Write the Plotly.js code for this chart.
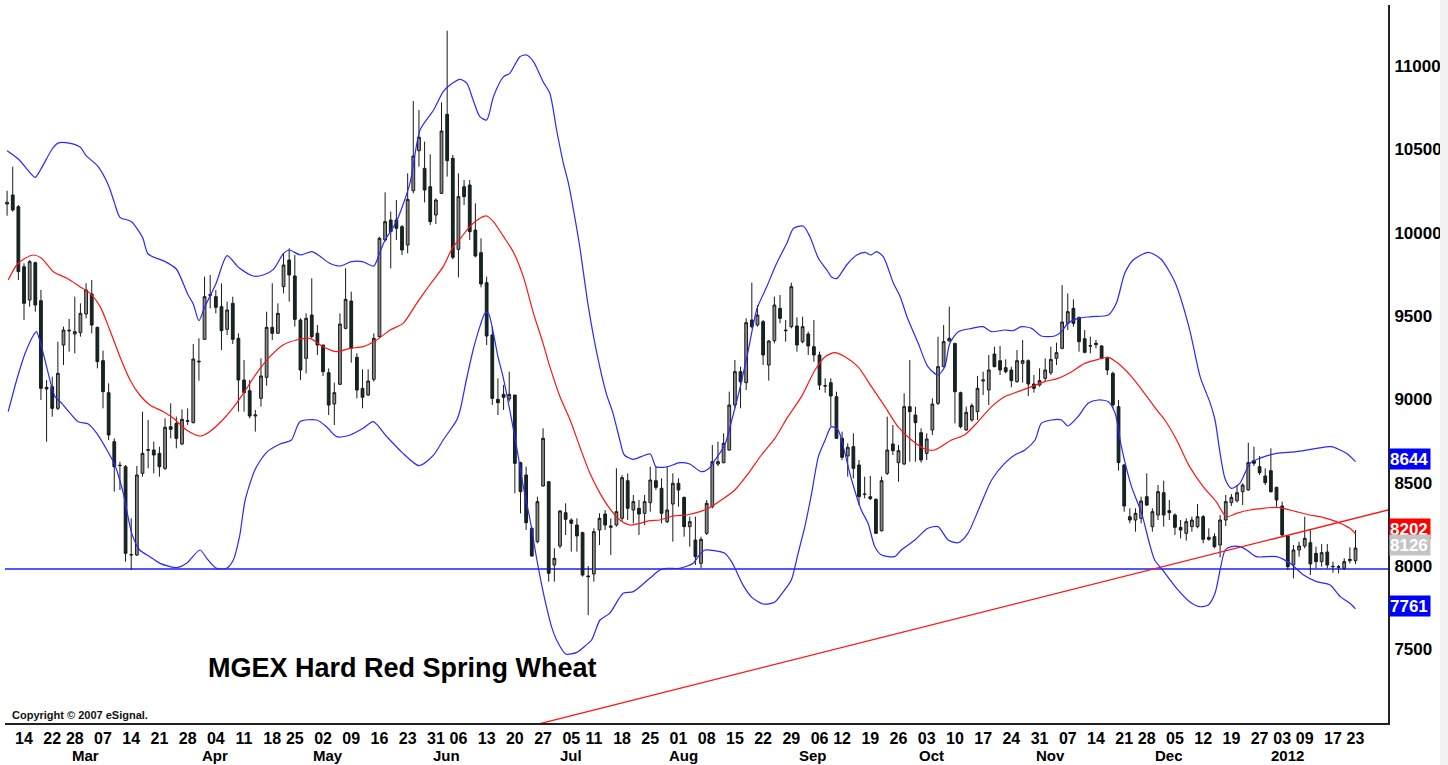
<!DOCTYPE html>
<html>
<head>
<meta charset="utf-8">
<script src="https://cdn.plot.ly/plotly-3.0.1.min.js"></script>
<style>
  html, body { margin: 0; padding: 0; background: #fff; }
  #chart { width: 1448px; height: 765px; }
</style>
</head>
<body>
<div id="chart"></div>
<script>
// ---------------- DATA ----------------
const holidays = ['2011-02-21','2011-04-22','2011-05-30','2011-07-04','2011-09-05','2011-11-24','2011-12-26','2012-01-02','2012-01-16'];
const firstDate = '2011-02-09';
const lastDate = '2012-01-23';

const open = [
10190,10244,10174,9814,9614,9838,9610,9090,9094,8964,
9344,9428,9410,9418,9530,9650,9450,9250,9058,8764,
8620,8614,8084,8084,8574,8712,8714,8694,8604,8854,
8874,8750,8886,8878,9242,9378,9642,9634,9574,9438,
9594,9384,9134,9070,8918,9024,9150,9450,9414,9694,
9854,9758,9494,9264,9524,9414,9344,9178,8990,9108,
9444,9608,9270,9084,9044,9138,9394,9974,10094,10094,
10054,9944,10270,10510,10404,10294,10124,10254,10728,10464,
9918,10294,10304,10034,9898,9718,9404,9018,9048,9020,
9044,8638,8564,8244,8164,8498,8524,8024,8138,8338,
8294,8264,8218,7958,7970,8234,8330,8250,8264,8304,
8530,8354,8364,8334,8398,8530,8484,8284,8390,8514,
8430,8254,8174,8034,8214,8374,8630,8638,8714,8984,
9184,9118,9494,9464,9484,9224,9370,9564,9434,9454,
9458,9364,9410,9334,9284,9100,9118,9034,8784,8678,
8734,8624,8450,8434,8418,8230,8574,8750,8638,8630,
8974,8924,8818,8694,8834,8994,9214,9368,9354,9058,
8834,8894,8944,9128,9074,9290,9250,9208,9194,9124,
9234,9250,9110,9104,9144,9178,9264,9324,9474,9564,
9510,9382,9340,9346,9338,9264,9174,8974,8624,8314,
8294,8304,8434,8254,8324,8458,8350,8324,8250,8214,
8254,8254,8314,8190,8194,8144,8294,8398,8410,8464,
8474,8650,8614,8558,8590,8490,8378,8198,8024,8114,
8138,8158,8094,8044,8102,8016,8010,8004,8050,8050
];
const high = [
10270,10414,10184,9834,9854,9844,9674,9134,9154,9364,
9454,9500,9634,9594,9714,9734,9454,9310,9114,8784,
8644,8624,8304,8618,8944,8894,8764,8734,8904,8994,
8914,8958,8964,9350,9384,9754,9764,9674,9714,9604,
9634,9414,9254,9134,8954,9264,9544,9714,9594,9894,
9924,9884,9504,9534,9744,9464,9344,9204,9118,9534,
9804,9664,9294,9198,9198,9414,9994,10260,10144,10214,
10064,10374,10808,10754,10564,10488,10224,10800,11230,10484,
10374,10334,10334,10194,9984,9754,9454,9144,9104,9184,
9044,8644,8614,8254,8434,8844,8524,8124,8354,8394,
8304,8304,8224,8018,8244,8334,8354,8304,8604,8564,
8574,8444,8414,8444,8614,8614,8544,8614,8574,8544,
8434,8314,8314,8194,8414,8744,8764,8814,9064,9254,
9214,9504,9718,9584,9494,9374,9634,9644,9494,9718,
9510,9514,9424,9494,9304,9144,9144,9064,8824,8754,
8814,8654,8554,8558,8424,8554,8914,8864,8744,9054,
9254,8974,8844,8814,9024,9394,9464,9574,9354,9064,
8974,8994,9158,9184,9284,9334,9338,9258,9214,9314,
9374,9258,9164,9204,9264,9334,9358,9704,9654,9618,
9514,9434,9394,9374,9344,9274,9184,9014,8630,8364,
8364,8434,8574,8364,8504,8530,8414,8334,8294,8304,
8314,8390,8324,8244,8214,8324,8444,8450,8504,8514,
8758,8734,8678,8604,8724,8494,8404,8204,8144,8164,
8314,8238,8134,8150,8150,8044,8024,8064,8130,8234
];
const low = [
10120,10144,9734,9494,9574,9544,9014,8764,8914,8954,
9224,9304,9294,9394,9504,9414,9204,8964,8774,8464,
8474,8044,7994,8078,8554,8604,8574,8554,8594,8784,
8724,8744,8864,8874,9130,9374,9564,9534,9314,9404,
9350,8944,8944,8904,8824,8974,9100,9374,9414,9654,
9604,9454,9134,9174,9384,9284,9158,8924,8864,9104,
9438,9238,9024,8964,9038,9124,9384,9964,9804,9974,
9884,9894,10254,10414,10200,10064,10070,10250,10354,9858,
9750,10184,9974,9870,9690,9344,8984,8924,8954,9004,
8454,8334,8234,8074,8154,8494,7924,7924,8124,8204,
8104,8104,7954,7724,7924,8144,8234,8084,8254,8284,
8294,8274,8204,8264,8344,8474,8274,8274,8164,8374,
8194,8134,8024,8004,8204,8364,8618,8634,8710,8964,
8964,9074,9444,9454,9224,9130,9354,9474,9364,9444,
9304,9354,9284,9244,9074,9058,8858,8784,8654,8554,
8544,8384,8424,8414,8210,8224,8564,8684,8524,8624,
8644,8644,8638,8654,8804,8984,9210,9364,8874,8844,
8830,8884,8894,9044,8984,9210,9164,9174,9090,9118,
9118,9038,9058,9094,9124,9164,9224,9318,9434,9454,
9304,9294,9294,9324,9258,9164,8964,8590,8344,8274,
8224,8274,8378,8224,8294,8254,8294,8204,8184,8170,
8224,8244,8154,8170,8124,8070,8258,8378,8398,8384,
8470,8618,8564,8504,8458,8374,8194,7994,7944,8074,
8124,7964,8004,8014,8004,7978,7974,7994,8034,8030
];
const close = [
10200,10154,9784,9594,9844,9584,9084,9080,8964,9174,
9434,9432,9424,9534,9674,9464,9244,9064,8804,8614,
8622,8094,8086,8564,8694,8716,8684,8614,8850,8838,
8784,8898,8890,9260,9246,9634,9646,9570,9430,9554,
9378,9134,9058,8918,8924,9158,9450,9414,9534,9824,
9764,9498,9194,9504,9394,9344,9184,8984,9058,9470,
9618,9324,9074,9030,9128,9384,9984,10084,10024,10044,
9914,10218,10478,10590,10274,10084,10214,10628,10450,9870,
10234,10234,10024,9878,9710,9398,9024,8998,9030,9048,
8634,8464,8278,8078,8404,8784,7974,8064,8348,8298,
8274,8198,7964,7954,8224,8304,8264,8258,8344,8548,
8364,8404,8330,8404,8534,8490,8334,8354,8514,8474,
8254,8284,8074,8178,8394,8644,8644,8754,8984,9184,
9124,9478,9454,9524,9284,9368,9584,9504,9430,9694,
9344,9454,9338,9284,9104,9098,9038,8784,8670,8730,
8604,8434,8448,8422,8214,8530,8714,8710,8710,8974,
8944,8878,8654,8780,8990,9214,9364,9384,9064,8854,
8940,8980,9084,9134,9194,9214,9194,9184,9130,9250,
9250,9110,9084,9130,9194,9258,9298,9482,9544,9474,
9364,9300,9338,9354,9264,9194,8984,8638,8378,8294,
8334,8408,8384,8344,8464,8324,8338,8250,8234,8284,
8294,8314,8178,8178,8134,8294,8404,8430,8458,8504,
8638,8634,8578,8518,8464,8414,8204,8014,8114,8138,
8184,8030,8044,8098,8024,8014,8014,8044,8058,8126
];

// Bollinger bands at sample positions (trading-day number, 0 = first bar)
const upperPos = [0,2,4,5,6,8,9,11,13,14,16,18,19,20,22,24,25,28,30,32,33,34,35,37,39,41,43.6,45.4,47.2,49,50,52,54,55.4,57,59,61,63,65,66,67,69,71.4,73.2,75.6,77.3,78.5,80.3,81.5,82.6,83.8,85,86.2,88,89.1,90.9,92.1,93.3,95,96.2,97.4,98.6,99.5,100.5,101.5,103,104.5,106.2,107.4,108.6,109.4,111,112.4,114,115,116.3,117.5,119.2,121,123,124.3,125.4,127.2,128.5,130,131.3,132.9,134.6,136.4,138.2,139.4,141.1,142.3,143.8,145.3,146.2,147.1,148.8,150.6,152.1,153.1,154.1,155.3,157.1,158.3,159.5,161.5,163.2,165,166.2,167.1,168.6,171,173,174.5,176.8,178.3,179.8,181.6,183.3,185.7,186.9,188,189.8,192.2,195.2,196.6,198.1,199.6,202.3,204.5,207,209.5,211.5,213.2,214.1,215,215.9,217,218.5,220.3,222,225,228.5,232.1,234.7,237.4,239];
const upperVal = [10510,10460,10380,10350,10400,10520,10555,10555,10530,10480,10420,10300,10200,10110,10085,9990,9890,9845,9800,9650,9590,9490,9570,9710,9880,9810,9758,9764,9798,9894,9914,9884,9904,9878,9838,9818,9844,9844,9818,9894,9974,10084,10314,10634,10754,10864,10904,10938,10914,10814,10714,10694,10834,10954,10974,11074,11084,11044,10924,10854,10634,10434,10314,10134,9934,9580,9300,9054,8934,8774,8684,8658,8674,8690,8614,8610,8618,8638,8630,8584,8600,8650,8744,8900,9100,9300,9560,9690,9834,9954,10044,10058,9994,9864,9794,9750,9744,9824,9884,9900,9884,9904,9874,9714,9634,9514,9354,9214,9164,9214,9354,9424,9444,9454,9424,9434,9430,9454,9444,9398,9398,9424,9474,9504,9514,9524,9594,9774,9854,9900,9860,9720,9450,9150,9000,8894,8694,8540,8484,8514,8634,8664,8694,8704,8724,8734,8694,8644];

const middlePos = [0.2,1.7,3.2,4.7,6.1,8.2,10.6,12.9,14.7,16.5,18.2,20,21.8,23.5,25.3,27.7,29.5,31.8,34.2,35.9,38.2,40,42,44.2,46.6,48.9,51.3,53.7,56,58.4,60.8,63.1,65.5,67.9,70.2,72.6,74.9,77.3,79,80.5,82,83.8,85,86.2,88,89.7,91.5,93.3,95,96.2,98,99.8,101.5,103.3,105.1,106.8,108.6,110.4,112.2,113.9,115.7,118,120.4,122.8,124.3,126.6,129,131.4,133.7,136.1,138.4,140.8,143.2,145,146.7,148.5,150.8,153.2,155.6,157.9,160.3,162.7,164.4,167.4,169.7,172.1,174.5,176.8,179.2,181.6,183.9,186.3,188.7,191,193.4,195.2,196.9,199.3,201.6,204,205.2,207.3,209.6,212,214.3,216.1,217.9,220.3,222.6,225,226.2,228.5,230.9,233.2,235.6,238,239];
const middleVal = [9734,9824,9864,9884,9864,9784,9744,9694,9654,9574,9434,9274,9134,9044,8984,8944,8904,8834,8798,8824,8894,8965,9060,9174,9274,9344,9374,9384,9334,9304,9324,9334,9374,9434,9474,9594,9704,9814,9930,9990,10054,10104,10118,10084,9994,9904,9754,9534,9354,9214,9034,8894,8734,8574,8454,8364,8294,8264,8274,8290,8294,8318,8324,8344,8364,8414,8474,8574,8684,8784,8914,9034,9194,9274,9298,9274,9214,9094,8974,8854,8774,8720,8714,8774,8804,8884,8974,9034,9064,9094,9124,9144,9184,9234,9258,9270,9234,9154,9054,8944,8894,8774,8614,8494,8404,8314,8334,8354,8364,8370,8364,8344,8324,8310,8284,8244,8210];

const lowerPos = [0.2,1.7,3.2,4.7,5.2,6.1,7,8.5,9.7,11.2,12.6,14.4,15.9,17.7,19.1,20.6,22.1,23.5,25.3,27.1,30.1,31.8,34.2,35.4,37.1,38.9,40.1,41.2,42.2,44,46,48.4,50.4,51.9,54.9,56.6,58.4,60.8,63.1,64.9,67.3,70,73,75.5,77.3,79.7,80.3,81.4,82.6,83.8,84.7,85.3,86.2,87,87.9,89.1,90.3,91.5,92.7,93.8,94.7,95.6,96.5,97.4,99,101,102.5,103.6,105.1,106.8,109.2,111,113.9,115.7,116.9,119.2,121.6,122.7,123.7,125.4,127.2,128.4,129.3,130.5,132,134,136,137.5,139,140.2,141.4,142.6,143.8,145,146.1,147.3,148.2,149.7,151.4,152.6,153.8,155,157.3,158.5,160.9,163.2,165,166.8,168.6,170.3,172.4,174.5,176.8,178.6,180.4,182.2,183.3,185.1,186.9,188,189.8,191.6,193.4,195.2,196.4,197.5,199.3,201.1,202.5,203.4,204.9,207.3,209.6,211.4,212.9,214.1,215,215.9,217,218.5,219.7,221.4,225,227.4,229.8,232.1,234.5,236.3,238,239];
const lowerVal = [8944,9134,9294,9404,9424,9334,9214,9034,8994,8934,8884,8870,8814,8714,8624,8454,8214,8114,8074,8034,8008,8034,8114,8064,8004,8004,8054,8194,8414,8600,8700,8750,8774,8884,8894,8854,8794,8804,8844,8884,8794,8700,8620,8680,8774,8894,8954,9134,9314,9454,9534,9534,9414,9274,9154,8954,8734,8494,8294,8074,7914,7774,7654,7574,7490,7500,7540,7574,7694,7734,7854,7864,7944,7994,8004,8004,8034,8084,8114,8110,8094,8044,7984,7900,7830,7790,7800,7860,7934,8094,8254,8454,8674,8774,8854,8834,8734,8534,8354,8274,8134,8084,8074,8114,8174,8244,8254,8174,8158,8214,8374,8534,8634,8684,8714,8774,8874,8894,8894,8858,8914,8994,9014,9004,8934,8734,8494,8334,8150,8054,7990,7884,7804,7774,7784,7854,7994,8114,8134,8134,8114,8074,8074,8034,7964,7924,7904,7834,7794,7761];

// Support line at 8000 and rising red trendline (two anchor points, extended to the right edge)
const supportLevel = 8000;
const trendDates = ['2011-06-27', '2012-01-23'];
const trendValues = [7077, 8305];

// Axis labels
const yTickVals = [7500, 8000, 8500, 9000, 9500, 10000, 10500, 11000];
const yTickText = ['7500', '8000', '8500', '9000', '9500', '10000', '10500', '11000'];
const tickDates = ['2011-02-14','2011-02-22','2011-02-28','2011-03-07','2011-03-14','2011-03-21','2011-03-28','2011-04-04','2011-04-11','2011-04-18','2011-04-25','2011-05-02','2011-05-09','2011-05-16','2011-05-23','2011-05-31','2011-06-06','2011-06-13','2011-06-20','2011-06-27','2011-07-05','2011-07-11','2011-07-18','2011-07-25','2011-08-01','2011-08-08','2011-08-15','2011-08-22','2011-08-29','2011-09-06','2011-09-12','2011-09-19','2011-09-26','2011-10-03','2011-10-10','2011-10-17','2011-10-24','2011-10-31','2011-11-07','2011-11-14','2011-11-21','2011-11-28','2011-12-05','2011-12-12','2011-12-19','2011-12-27','2012-01-03','2012-01-09','2012-01-17','2012-01-23'];
const tickText = ['14','22','28','07','14','21','28','04','11','18','25','02','09','16','23','31','06','13','20','27','05','11','18','25','01','08','15','22','29','06','12','19','26','03','10','17','24','31','07','14','21','28','05','12','19','27','03','09','17','23'];
const monthDates = ['2011-03-01','2011-04-01','2011-05-02','2011-06-01','2011-07-01','2011-08-01','2011-09-01','2011-10-03','2011-11-01','2011-12-01','2012-01-03'];
const monthText = ['Mar','Apr','May','Jun','Jul','Aug','Sep','Oct','Nov','Dec','2012'];

// Last-value tags at the right
const tagText = ['8644', '8202', '8126', '7761'];
const tagValues = [8644, 8202, 8126, 7761];

const chartTitle = 'MGEX Hard Red Spring Wheat';
const copyrightText = 'Copyright \u00A9 2007 eSignal.';

// ---------------- BUILD ----------------
function tradingDays(start, end, skip) {
  const out = [];
  const d = new Date(start + 'T00:00:00Z');
  const e = new Date(end + 'T00:00:00Z');
  while (d <= e) {
    const wd = d.getUTCDay();
    const s = d.toISOString().slice(0, 10);
    if (wd !== 0 && wd !== 6 && skip.indexOf(s) < 0) out.push(s);
    d.setUTCDate(d.getUTCDate() + 1);
  }
  return out;
}
const dates = tradingDays(firstDate, lastDate, holidays);
const pos = d => dates.indexOf(d);
const barPos = dates.map((d, i) => i);

const FONT = 'Liberation Sans, Arial, Helvetica, sans-serif';
const xRange = [-0.37, 244.76];
const yRange = [7076, 11384];

const tStart = pos(trendDates[0]), tEnd = pos(trendDates[1]);
const slope = (trendValues[1] - trendValues[0]) / (tEnd - tStart);
const trendX = [tStart - 2, tEnd, xRange[1] + 2];
const trendY = [trendValues[0] - 2 * slope, trendValues[1], trendValues[1] + slope * (xRange[1] + 2 - tEnd)];

const traces = [
  { type: 'scatter', mode: 'lines', x: upperPos, y: upperVal, line: { color: 'rgb(40,40,255)', width: 1.2, shape: 'spline', smoothing: 0.7 }, hoverinfo: 'skip' },
  { type: 'scatter', mode: 'lines', x: lowerPos, y: lowerVal, line: { color: 'rgb(40,40,255)', width: 1.2, shape: 'spline', smoothing: 0.7 }, hoverinfo: 'skip' },
  { type: 'scatter', mode: 'lines', x: middlePos, y: middleVal, line: { color: 'rgb(255,20,20)', width: 1.2, shape: 'spline', smoothing: 0.7 }, hoverinfo: 'skip' },
  { type: 'scatter', mode: 'lines', x: trendX, y: trendY, line: { color: 'rgb(255,20,20)', width: 1.3 }, hoverinfo: 'skip' },
  {
    type: 'candlestick', x: barPos, open: open, high: high, low: low, close: close,
    increasing: { line: { color: '#1a1a1a', width: 1 }, fillcolor: '#8a8a8a' },
    decreasing: { line: { color: '#1a1a1a', width: 1 }, fillcolor: '#0c2a2a' },
    whiskerwidth: 0, hoverinfo: 'skip'
  }
];

const annotations = [];
monthText.forEach((m, i) => {
  annotations.push({
    xref: 'x', yref: 'paper', x: pos(monthDates[i]) + 0.9, y: 0, yanchor: 'top', xanchor: 'center',
    yshift: -23, text: m, showarrow: false, borderpad: 0,
    font: { family: FONT, size: 15, color: '#000', weight: 'bold' }
  });
});
annotations.push({
  xref: 'paper', yref: 'paper', x: 0.1453, y: 0.0766, xanchor: 'left', yanchor: 'middle',
  text: chartTitle, showarrow: false, font: { family: FONT, size: 27, color: '#000', weight: 'bold' }
});
annotations.push({
  xref: 'paper', yref: 'paper', x: 0.0036, y: 0.0111, xanchor: 'left', yanchor: 'middle',
  text: copyrightText, showarrow: false, font: { family: FONT, size: 11, color: '#111', weight: 'bold' }
});
const tagBg = ['#0000ff', '#ff0000', '#c4c4c4', '#0000ff'];
const tagShift = [3, 6, 3, 3];
tagText.forEach((t, i) => {
  annotations.push({
    xref: 'paper', yref: 'y', x: 1, xshift: 1, y: tagValues[i], yshift: tagShift[i],
    xanchor: 'left', yanchor: 'middle', text: t, showarrow: false,
    bgcolor: tagBg[i], borderpad: 0, width: 40, height: 20, align: 'left',
    font: { family: FONT, size: 17, color: '#fff', weight: 'bold' }
  });
});

const layout = {
  width: 1448, height: 765,
  margin: { l: 5, r: 60, t: 5, b: 42 },
  paper_bgcolor: '#ffffff', plot_bgcolor: '#ffffff',
  showlegend: false,
  xaxis: {
    type: 'linear', range: xRange, tickmode: 'array',
    tickvals: tickDates.map(pos), ticktext: tickText, tickangle: 0,
    tickfont: { family: FONT, size: 16, color: '#000', weight: 'bold' },
    showgrid: false, zeroline: false, showline: true, linecolor: '#222', linewidth: 2,
    ticks: '', ticklabelstandoff: 0, rangeslider: { visible: false }, fixedrange: true
  },
  yaxis: {
    side: 'right', range: yRange, tickmode: 'array', tickvals: yTickVals, ticktext: yTickText,
    tickfont: { family: FONT, size: 17, color: '#000', weight: 'bold' },
    showgrid: false, zeroline: false, showline: true, linecolor: '#222', linewidth: 2,
    ticks: '', ticklabelstandoff: 1, ticklabelshift: -3, fixedrange: true
  },
  shapes: [
    { type: 'line', xref: 'paper', yref: 'y', x0: 0, x1: 1, y0: supportLevel, y1: supportLevel, line: { color: 'rgb(30,30,255)', width: 1.5 }, layer: 'below' },
    { type: 'rect', xref: 'paper', yref: 'paper', x0: 1.0376, x1: 1.05, y0: -0.07, y1: 1.01, fillcolor: '#f2f2f2', line: { width: 0 } }
  ],
  annotations: annotations
};

Plotly.newPlot('chart', traces, layout, { staticPlot: true, displayModeBar: false });
</script>
</body>
</html>
